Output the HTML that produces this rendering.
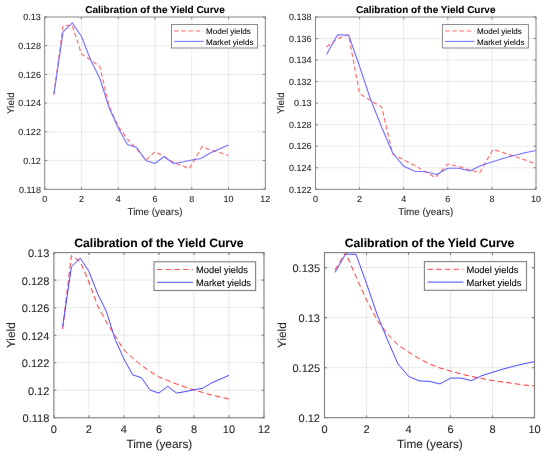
<!DOCTYPE html>
<html><head><meta charset="utf-8"><title>Calibration of the Yield Curve</title>
<style>html,body{margin:0;padding:0;background:#fff;}svg{display:block;}text{font-family:"Liberation Sans",sans-serif;text-rendering:geometricPrecision;stroke-width:0.08px;}</style>
</head><body>
<svg width="550" height="458" viewBox="0 0 550 458" font-family="Liberation Sans, sans-serif">
<defs><filter id="fl" x="0" y="0" width="550" height="458" filterUnits="userSpaceOnUse"><feConvolveMatrix order="3" kernelMatrix="0.00163 0.03713 0.00163 0.03713 0.84497 0.03713 0.00163 0.03713 0.00163" edgeMode="none" preserveAlpha="false"/></filter><filter id="ft" x="0" y="0" width="550" height="458" filterUnits="userSpaceOnUse"><feConvolveMatrix order="3" kernelMatrix="0.00001 0.00381 0.00001 0.00381 0.98471 0.00381 0.00001 0.00381 0.00001" edgeMode="none" preserveAlpha="false"/></filter></defs>
<rect width="550" height="458" fill="#fff"/>
<g filter="url(#fl)">
<path d="M81.47 17.00V189.30 M118.23 17.00V189.30 M155.00 17.00V189.30 M191.77 17.00V189.30 M228.53 17.00V189.30" stroke="#262626" stroke-opacity="0.085" stroke-width="1.00" fill="none"/>
<path d="M44.70 160.58H265.30 M44.70 131.87H265.30 M44.70 103.15H265.30 M44.70 74.43H265.30 M44.70 45.72H265.30" stroke="#262626" stroke-opacity="0.085" stroke-width="1.00" fill="none"/>
<clipPath id="c1"><rect x="44.7" y="17" width="220.60" height="172.30"/></clipPath>
<path d="M53.89 94.40 L63.08 25.50 L72.28 25.50 L81.47 54.00 L90.66 60.00 L99.85 66.50 L109.04 106.00 L118.23 126.50 L127.43 139.00 L136.62 149.00 L145.81 160.00 L155.00 152.00 L164.19 156.50 L173.38 162.50 L182.57 166.00 L189.38 168.50 L202.25 146.50 L210.15 150.00 L219.34 152.50 L228.53 155.50" stroke="#ff6060" stroke-width="1.10" fill="none" stroke-linejoin="round" stroke-dasharray="4.5 2.7" clip-path="url(#c1)"/>
<path d="M53.89 94.40 L63.08 31.80 L72.28 22.80 L81.47 36.50 L90.66 60.00 L99.85 78.50 L109.04 107.50 L118.23 128.00 L127.43 144.50 L136.62 147.50 L145.81 160.50 L155.00 163.50 L164.19 156.50 L173.38 163.50 L182.57 162.00 L191.77 160.00 L200.96 158.50 L210.15 153.00 L219.34 149.00 L228.53 145.00" stroke="#6a6aff" stroke-width="1.10" fill="none" stroke-linejoin="round" clip-path="url(#c1)"/>
<rect x="44.7" y="17" width="220.60" height="172.30" stroke="#777777" stroke-width="0.90" fill="none"/>
<path d="M44.70 189.30v-2.5M44.70 17.00v2.5M81.47 189.30v-2.5M81.47 17.00v2.5M118.23 189.30v-2.5M118.23 17.00v2.5M155.00 189.30v-2.5M155.00 17.00v2.5M191.77 189.30v-2.5M191.77 17.00v2.5M228.53 189.30v-2.5M228.53 17.00v2.5M265.30 189.30v-2.5M265.30 17.00v2.5M44.70 189.30h2.5M265.30 189.30h-2.5M44.70 160.58h2.5M265.30 160.58h-2.5M44.70 131.87h2.5M265.30 131.87h-2.5M44.70 103.15h2.5M265.30 103.15h-2.5M44.70 74.43h2.5M265.30 74.43h-2.5M44.70 45.72h2.5M265.30 45.72h-2.5M44.70 17.00h2.5M265.30 17.00h-2.5" stroke="#777777" stroke-width="0.90" fill="none"/>
<rect x="171.5" y="24.5" width="86.10" height="23.50" fill="#fff" stroke="#777777" stroke-width="0.90"/>
<path d="M174 30.95H203.5" stroke="#ff6060" stroke-width="1.10" stroke-dasharray="4.6 2.6"/>
<path d="M174 41.4H203.5" stroke="#6a6aff" stroke-width="1.10"/>
<path d="M359.60 17.00V189.30 M403.70 17.00V189.30 M447.80 17.00V189.30 M491.90 17.00V189.30" stroke="#262626" stroke-opacity="0.085" stroke-width="1.00" fill="none"/>
<path d="M315.50 167.76H536.00 M315.50 146.23H536.00 M315.50 124.69H536.00 M315.50 103.15H536.00 M315.50 81.61H536.00 M315.50 60.07H536.00 M315.50 38.54H536.00" stroke="#262626" stroke-opacity="0.085" stroke-width="1.00" fill="none"/>
<clipPath id="c2"><rect x="315.5" y="17" width="220.50" height="172.30"/></clipPath>
<path d="M326.52 47.00 L337.55 38.50 L348.57 35.00 L359.60 93.50 L370.62 100.60 L381.65 107.00 L392.68 154.00 L403.70 160.00 L414.73 165.50 L425.75 172.00 L435.23 177.50 L447.80 164.00 L458.83 166.50 L469.85 170.00 L479.77 172.50 L493.00 149.50 L502.92 152.50 L513.95 156.20 L524.98 160.00 L536.00 164.00" stroke="#ff6060" stroke-width="1.10" fill="none" stroke-linejoin="round" stroke-dasharray="4.5 2.7" clip-path="url(#c2)"/>
<path d="M326.52 54.50 L337.55 34.80 L348.57 35.00 L359.60 66.50 L370.62 99.50 L381.65 127.20 L392.68 153.00 L403.70 166.30 L414.73 171.20 L425.75 171.80 L436.77 174.50 L447.80 168.20 L458.83 168.20 L469.85 171.00 L480.88 165.50 L491.90 162.00 L502.92 158.50 L513.95 155.50 L524.98 152.80 L536.00 150.50" stroke="#6a6aff" stroke-width="1.10" fill="none" stroke-linejoin="round" clip-path="url(#c2)"/>
<rect x="315.5" y="17" width="220.50" height="172.30" stroke="#777777" stroke-width="0.90" fill="none"/>
<path d="M315.50 189.30v-2.5M315.50 17.00v2.5M359.60 189.30v-2.5M359.60 17.00v2.5M403.70 189.30v-2.5M403.70 17.00v2.5M447.80 189.30v-2.5M447.80 17.00v2.5M491.90 189.30v-2.5M491.90 17.00v2.5M536.00 189.30v-2.5M536.00 17.00v2.5M315.50 189.30h2.5M536.00 189.30h-2.5M315.50 167.76h2.5M536.00 167.76h-2.5M315.50 146.23h2.5M536.00 146.23h-2.5M315.50 124.69h2.5M536.00 124.69h-2.5M315.50 103.15h2.5M536.00 103.15h-2.5M315.50 81.61h2.5M536.00 81.61h-2.5M315.50 60.07h2.5M536.00 60.07h-2.5M315.50 38.54h2.5M536.00 38.54h-2.5M315.50 17.00h2.5M536.00 17.00h-2.5" stroke="#777777" stroke-width="0.90" fill="none"/>
<rect x="442.4" y="24.5" width="86.00" height="23.50" fill="#fff" stroke="#777777" stroke-width="0.90"/>
<path d="M445 30.95H474.5" stroke="#ff6060" stroke-width="1.10" stroke-dasharray="4.6 2.6"/>
<path d="M445 41.4H474.5" stroke="#6a6aff" stroke-width="1.10"/>
<path d="M88.92 252.60V417.80 M123.93 252.60V417.80 M158.95 252.60V417.80 M193.97 252.60V417.80 M228.98 252.60V417.80" stroke="#262626" stroke-opacity="0.085" stroke-width="1.00" fill="none"/>
<path d="M53.90 390.27H264.00 M53.90 362.73H264.00 M53.90 335.20H264.00 M53.90 307.67H264.00 M53.90 280.13H264.00" stroke="#262626" stroke-opacity="0.085" stroke-width="1.00" fill="none"/>
<clipPath id="c3"><rect x="53.9" y="252.6" width="210.10" height="165.20"/></clipPath>
<path d="M62.65 329.00 L71.41 255.60 L80.16 261.50 L88.92 282.00 L97.67 306.00 L106.42 322.00 L115.18 336.00 L123.93 350.00 L132.69 358.00 L141.44 365.50 L150.20 371.50 L158.95 377.00 L167.70 380.50 L176.46 384.00 L185.21 387.00 L193.97 390.00 L202.72 392.50 L211.47 395.00 L220.23 397.00 L228.98 399.00" stroke="#ff2a2a" stroke-width="1.00" fill="none" stroke-linejoin="round" stroke-dasharray="5.5 3.2" clip-path="url(#c3)"/>
<path d="M62.65 326.81 L71.41 266.79 L80.16 258.16 L88.92 271.30 L97.67 293.83 L106.42 311.57 L115.18 339.37 L123.93 359.03 L132.69 374.85 L141.44 377.72 L150.20 390.19 L158.95 393.06 L167.70 386.35 L176.46 393.06 L185.21 391.62 L193.97 389.71 L202.72 388.27 L211.47 383.00 L220.23 379.16 L228.98 375.33" stroke="#4040ff" stroke-width="1.00" fill="none" stroke-linejoin="round" clip-path="url(#c3)"/>
<rect x="53.9" y="252.6" width="210.10" height="165.20" stroke="#777777" stroke-width="1.08" fill="none"/>
<path d="M53.90 417.80v-2.5M53.90 252.60v2.5M88.92 417.80v-2.5M88.92 252.60v2.5M123.93 417.80v-2.5M123.93 252.60v2.5M158.95 417.80v-2.5M158.95 252.60v2.5M193.97 417.80v-2.5M193.97 252.60v2.5M228.98 417.80v-2.5M228.98 252.60v2.5M264.00 417.80v-2.5M264.00 252.60v2.5M53.90 417.80h2.5M264.00 417.80h-2.5M53.90 390.27h2.5M264.00 390.27h-2.5M53.90 362.73h2.5M264.00 362.73h-2.5M53.90 335.20h2.5M264.00 335.20h-2.5M53.90 307.67h2.5M264.00 307.67h-2.5M53.90 280.13h2.5M264.00 280.13h-2.5M53.90 252.60h2.5M264.00 252.60h-2.5" stroke="#777777" stroke-width="1.08" fill="none"/>
<rect x="154" y="261.8" width="101.60" height="28.70" fill="#fff" stroke="#777777" stroke-width="1.08"/>
<path d="M157 269.5H193" stroke="#ff2a2a" stroke-width="1.00" stroke-dasharray="5.5 3.2"/>
<path d="M157 282.3H193" stroke="#4040ff" stroke-width="1.00"/>
<path d="M366.50 252.60V417.70 M408.50 252.60V417.70 M450.50 252.60V417.70 M492.50 252.60V417.70" stroke="#262626" stroke-opacity="0.085" stroke-width="1.00" fill="none"/>
<path d="M324.50 367.67H534.50 M324.50 317.64H534.50 M324.50 267.61H534.50" stroke="#262626" stroke-opacity="0.085" stroke-width="1.00" fill="none"/>
<clipPath id="c4"><rect x="324.5" y="252.6" width="210.00" height="165.10"/></clipPath>
<path d="M335.00 270.00 L345.50 252.50 L356.00 276.60 L366.50 300.00 L377.00 320.00 L387.50 334.00 L398.00 345.00 L408.50 352.00 L419.00 358.50 L429.50 364.00 L440.00 368.00 L450.50 371.00 L461.00 374.00 L471.50 376.50 L482.00 378.50 L492.50 380.50 L503.00 382.00 L513.50 383.50 L524.00 385.00 L534.50 386.00" stroke="#ff2a2a" stroke-width="1.00" fill="none" stroke-linejoin="round" stroke-dasharray="5.5 3.2" clip-path="url(#c4)"/>
<path d="M335.00 272.43 L345.50 254.13 L356.00 254.32 L366.50 283.59 L377.00 314.25 L387.50 339.99 L398.00 363.96 L408.50 376.32 L419.00 380.87 L429.50 381.43 L440.00 383.94 L450.50 378.08 L461.00 378.08 L471.50 380.68 L482.00 375.57 L492.50 372.32 L503.00 369.07 L513.50 366.28 L524.00 363.77 L534.50 361.64" stroke="#4040ff" stroke-width="1.00" fill="none" stroke-linejoin="round" clip-path="url(#c4)"/>
<rect x="324.5" y="252.6" width="210.00" height="165.10" stroke="#777777" stroke-width="1.08" fill="none"/>
<path d="M324.50 417.70v-2.5M324.50 252.60v2.5M366.50 417.70v-2.5M366.50 252.60v2.5M408.50 417.70v-2.5M408.50 252.60v2.5M450.50 417.70v-2.5M450.50 252.60v2.5M492.50 417.70v-2.5M492.50 252.60v2.5M534.50 417.70v-2.5M534.50 252.60v2.5M324.50 417.70h2.5M534.50 417.70h-2.5M324.50 367.67h2.5M534.50 367.67h-2.5M324.50 317.64h2.5M534.50 317.64h-2.5M324.50 267.61h2.5M534.50 267.61h-2.5" stroke="#777777" stroke-width="1.08" fill="none"/>
<rect x="424.4" y="261.6" width="102.10" height="28.70" fill="#fff" stroke="#777777" stroke-width="1.08"/>
<path d="M427.4 269.3H463.4" stroke="#ff2a2a" stroke-width="1.00" stroke-dasharray="5.5 3.2"/>
<path d="M427.4 282.1H463.4" stroke="#4040ff" stroke-width="1.00"/>
</g>
<g filter="url(#ft)">
<text x="44.70" y="201.8" font-size="9" text-anchor="middle" fill="#262626" stroke="#262626">0</text>
<text x="81.47" y="201.8" font-size="9" text-anchor="middle" fill="#262626" stroke="#262626">2</text>
<text x="118.23" y="201.8" font-size="9" text-anchor="middle" fill="#262626" stroke="#262626">4</text>
<text x="155.00" y="201.8" font-size="9" text-anchor="middle" fill="#262626" stroke="#262626">6</text>
<text x="191.77" y="201.8" font-size="9" text-anchor="middle" fill="#262626" stroke="#262626">8</text>
<text x="228.53" y="201.8" font-size="9" text-anchor="middle" fill="#262626" stroke="#262626">10</text>
<text x="265.30" y="201.8" font-size="9" text-anchor="middle" fill="#262626" stroke="#262626">12</text>
<text x="40.9" y="192.50" font-size="9" text-anchor="end" fill="#262626" stroke="#262626">0.118</text>
<text x="40.9" y="163.78" font-size="9" text-anchor="end" fill="#262626" stroke="#262626">0.12</text>
<text x="40.9" y="135.07" font-size="9" text-anchor="end" fill="#262626" stroke="#262626">0.122</text>
<text x="40.9" y="106.35" font-size="9" text-anchor="end" fill="#262626" stroke="#262626">0.124</text>
<text x="40.9" y="77.63" font-size="9" text-anchor="end" fill="#262626" stroke="#262626">0.126</text>
<text x="40.9" y="48.92" font-size="9" text-anchor="end" fill="#262626" stroke="#262626">0.128</text>
<text x="40.9" y="20.20" font-size="9" text-anchor="end" fill="#262626" stroke="#262626">0.13</text>
<text x="155.00" y="214.7" font-size="9.9" text-anchor="middle" fill="#262626" stroke="#262626">Time (years)</text>
<text transform="translate(13.8 103.15) rotate(-90)" font-size="9.9" text-anchor="middle" fill="#262626" stroke="#262626">Yield</text>
<text x="155.00" y="12.8" font-size="10" font-weight="bold" text-anchor="middle" fill="#000" stroke="#000">Calibration of the Yield Curve</text>
<text x="206" y="34.2" font-size="8.05" fill="#000" stroke="#000">Model yields</text>
<text x="206" y="44.6" font-size="8.05" fill="#000" stroke="#000">Market yields</text>
<text x="315.50" y="201.8" font-size="9" text-anchor="middle" fill="#262626" stroke="#262626">0</text>
<text x="359.60" y="201.8" font-size="9" text-anchor="middle" fill="#262626" stroke="#262626">2</text>
<text x="403.70" y="201.8" font-size="9" text-anchor="middle" fill="#262626" stroke="#262626">4</text>
<text x="447.80" y="201.8" font-size="9" text-anchor="middle" fill="#262626" stroke="#262626">6</text>
<text x="491.90" y="201.8" font-size="9" text-anchor="middle" fill="#262626" stroke="#262626">8</text>
<text x="536.00" y="201.8" font-size="9" text-anchor="middle" fill="#262626" stroke="#262626">10</text>
<text x="311.6" y="192.50" font-size="9" text-anchor="end" fill="#262626" stroke="#262626">0.122</text>
<text x="311.6" y="170.96" font-size="9" text-anchor="end" fill="#262626" stroke="#262626">0.124</text>
<text x="311.6" y="149.43" font-size="9" text-anchor="end" fill="#262626" stroke="#262626">0.126</text>
<text x="311.6" y="127.89" font-size="9" text-anchor="end" fill="#262626" stroke="#262626">0.128</text>
<text x="311.6" y="106.35" font-size="9" text-anchor="end" fill="#262626" stroke="#262626">0.13</text>
<text x="311.6" y="84.81" font-size="9" text-anchor="end" fill="#262626" stroke="#262626">0.132</text>
<text x="311.6" y="63.27" font-size="9" text-anchor="end" fill="#262626" stroke="#262626">0.134</text>
<text x="311.6" y="41.74" font-size="9" text-anchor="end" fill="#262626" stroke="#262626">0.136</text>
<text x="311.6" y="20.20" font-size="9" text-anchor="end" fill="#262626" stroke="#262626">0.138</text>
<text x="425.75" y="214.7" font-size="9.9" text-anchor="middle" fill="#262626" stroke="#262626">Time (years)</text>
<text transform="translate(284.2 103.15) rotate(-90)" font-size="9.9" text-anchor="middle" fill="#262626" stroke="#262626">Yield</text>
<text x="425.75" y="12.8" font-size="10" font-weight="bold" text-anchor="middle" fill="#000" stroke="#000">Calibration of the Yield Curve</text>
<text x="477" y="34.2" font-size="8.05" fill="#000" stroke="#000">Model yields</text>
<text x="477" y="44.6" font-size="8.05" fill="#000" stroke="#000">Market yields</text>
<text x="53.90" y="432.8" font-size="11" text-anchor="middle" fill="#262626" stroke="#262626">0</text>
<text x="88.92" y="432.8" font-size="11" text-anchor="middle" fill="#262626" stroke="#262626">2</text>
<text x="123.93" y="432.8" font-size="11" text-anchor="middle" fill="#262626" stroke="#262626">4</text>
<text x="158.95" y="432.8" font-size="11" text-anchor="middle" fill="#262626" stroke="#262626">6</text>
<text x="193.97" y="432.8" font-size="11" text-anchor="middle" fill="#262626" stroke="#262626">8</text>
<text x="228.98" y="432.8" font-size="11" text-anchor="middle" fill="#262626" stroke="#262626">10</text>
<text x="264.00" y="432.8" font-size="11" text-anchor="middle" fill="#262626" stroke="#262626">12</text>
<text x="49.3" y="422.30" font-size="11" text-anchor="end" fill="#262626" stroke="#262626">0.118</text>
<text x="49.3" y="394.77" font-size="11" text-anchor="end" fill="#262626" stroke="#262626">0.12</text>
<text x="49.3" y="367.23" font-size="11" text-anchor="end" fill="#262626" stroke="#262626">0.122</text>
<text x="49.3" y="339.70" font-size="11" text-anchor="end" fill="#262626" stroke="#262626">0.124</text>
<text x="49.3" y="312.17" font-size="11" text-anchor="end" fill="#262626" stroke="#262626">0.126</text>
<text x="49.3" y="284.63" font-size="11" text-anchor="end" fill="#262626" stroke="#262626">0.128</text>
<text x="49.3" y="257.10" font-size="11" text-anchor="end" fill="#262626" stroke="#262626">0.13</text>
<text x="159.35" y="448.2" font-size="11.8" text-anchor="middle" fill="#262626" stroke="#262626">Time (years)</text>
<text transform="translate(15.3 335.20) rotate(-90)" font-size="11.8" text-anchor="middle" fill="#262626" stroke="#262626">Yield</text>
<text x="158.95" y="247.2" font-size="12.15" font-weight="bold" text-anchor="middle" fill="#000" stroke="#000">Calibration of the Yield Curve</text>
<text x="196" y="273" font-size="9.35" fill="#000" stroke="#000">Model yields</text>
<text x="196" y="285.7" font-size="9.35" fill="#000" stroke="#000">Market yields</text>
<text x="324.50" y="432.8" font-size="11" text-anchor="middle" fill="#262626" stroke="#262626">0</text>
<text x="366.50" y="432.8" font-size="11" text-anchor="middle" fill="#262626" stroke="#262626">2</text>
<text x="408.50" y="432.8" font-size="11" text-anchor="middle" fill="#262626" stroke="#262626">4</text>
<text x="450.50" y="432.8" font-size="11" text-anchor="middle" fill="#262626" stroke="#262626">6</text>
<text x="492.50" y="432.8" font-size="11" text-anchor="middle" fill="#262626" stroke="#262626">8</text>
<text x="534.50" y="432.8" font-size="11" text-anchor="middle" fill="#262626" stroke="#262626">10</text>
<text x="320" y="422.20" font-size="11" text-anchor="end" fill="#262626" stroke="#262626">0.12</text>
<text x="320" y="372.17" font-size="11" text-anchor="end" fill="#262626" stroke="#262626">0.125</text>
<text x="320" y="322.14" font-size="11" text-anchor="end" fill="#262626" stroke="#262626">0.13</text>
<text x="320" y="272.11" font-size="11" text-anchor="end" fill="#262626" stroke="#262626">0.135</text>
<text x="429.90" y="448.2" font-size="11.8" text-anchor="middle" fill="#262626" stroke="#262626">Time (years)</text>
<text transform="translate(286.4 335.15) rotate(-90)" font-size="11.8" text-anchor="middle" fill="#262626" stroke="#262626">Yield</text>
<text x="429.50" y="247.2" font-size="12.15" font-weight="bold" text-anchor="middle" fill="#000" stroke="#000">Calibration of the Yield Curve</text>
<text x="466.4" y="272.8" font-size="9.35" fill="#000" stroke="#000">Model yields</text>
<text x="466.4" y="285.5" font-size="9.35" fill="#000" stroke="#000">Market yields</text>
</g></svg>
</body></html>
